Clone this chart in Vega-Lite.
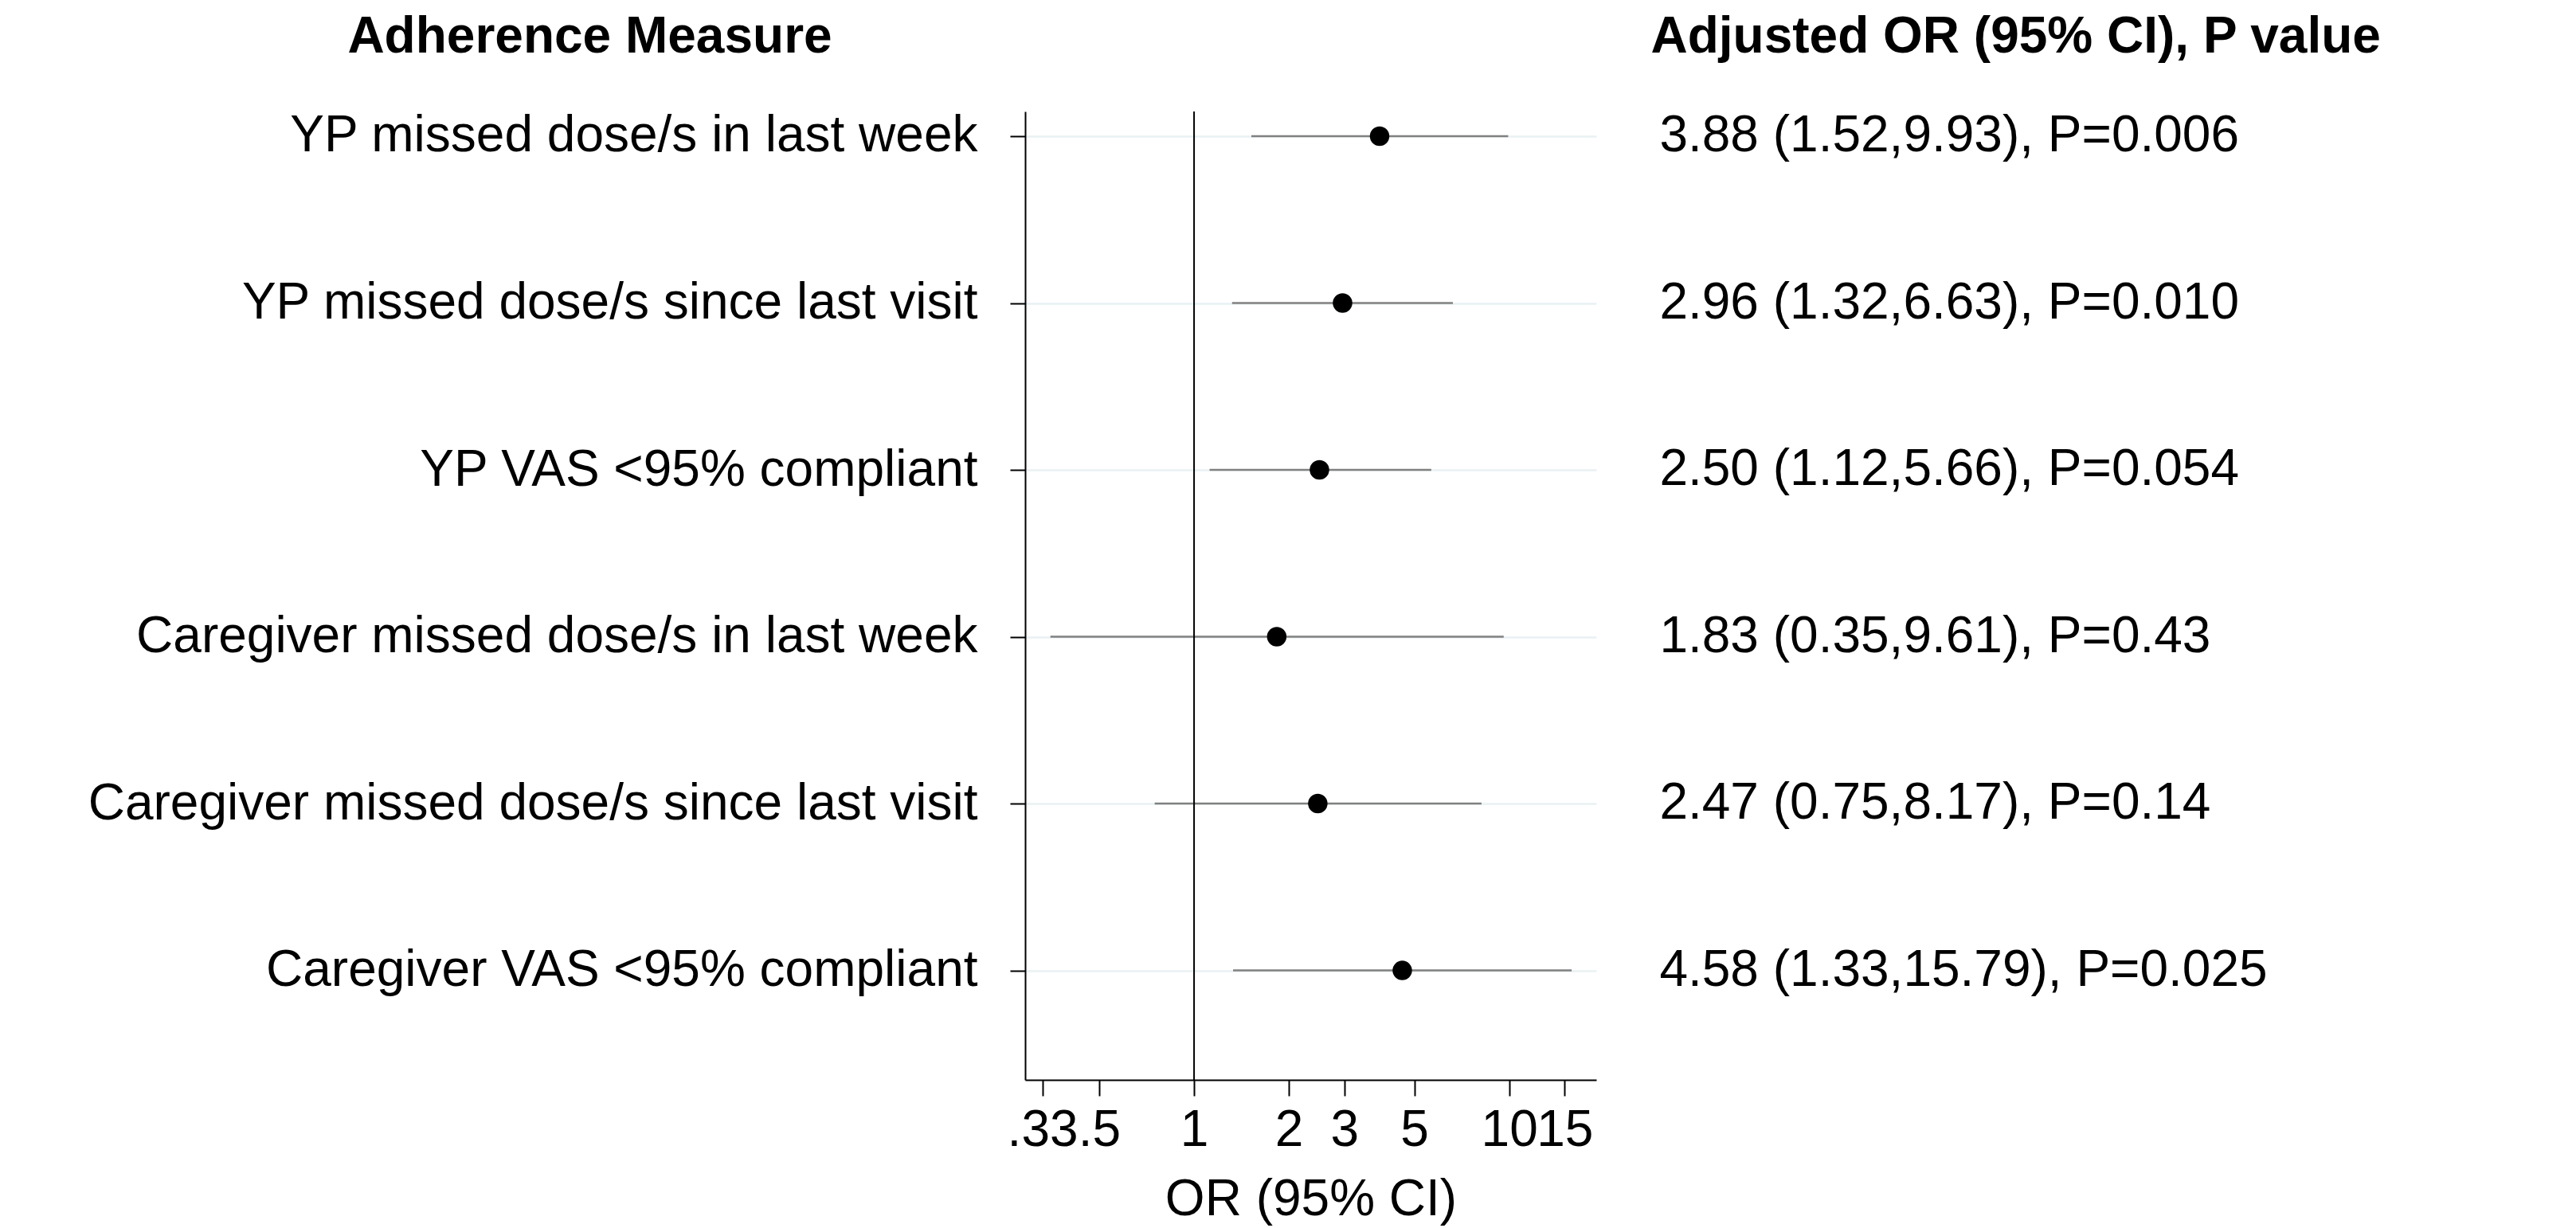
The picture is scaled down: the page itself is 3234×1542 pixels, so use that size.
{
  "$schema": "https://vega.github.io/schema/vega-lite/v6.json",
  "width": 717,
  "height": 1216,
  "autosize": {"type": "none"},
  "padding": {"left": 1287, "top": 140, "right": 1230, "bottom": 186},
  "background": "white",
  "config": {"view": {"stroke": null}, "font": "Liberation Sans"},
  "data": {
    "values": [
      {"measure": "YP missed dose/s in last week", "or": 3.88, "lower": 1.52, "upper": 9.93, "ci": "3.88 (1.52,9.93), P=0.006"},
      {"measure": "YP missed dose/s since last visit", "or": 2.96, "lower": 1.32, "upper": 6.63, "ci": "2.96 (1.32,6.63), P=0.010"},
      {"measure": "YP VAS <95% compliant", "or": 2.50, "lower": 1.12, "upper": 5.66, "ci": "2.50 (1.12,5.66), P=0.054"},
      {"measure": "Caregiver missed dose/s in last week", "or": 1.83, "lower": 0.35, "upper": 9.61, "ci": "1.83 (0.35,9.61), P=0.43"},
      {"measure": "Caregiver missed dose/s since last visit", "or": 2.47, "lower": 0.75, "upper": 8.17, "ci": "2.47 (0.75,8.17), P=0.14"},
      {"measure": "Caregiver VAS <95% compliant", "or": 4.58, "lower": 1.33, "upper": 15.79, "ci": "4.58 (1.33,15.79), P=0.025"}
    ]
  },
  "resolve": {"axis": {"x": "independent"}},
  "layer": [
    {
      "mark": {"type": "rule", "color": "#808080", "strokeWidth": 2.5},
      "encoding": {
        "x": {
          "field": "lower", "type": "quantitative",
          "scale": {"type": "log", "domain": [0.291, 18.9], "nice": false, "zero": false},
          "axis": {
            "orient": "bottom",
            "values": [0.33, 0.5, 1, 2, 3, 5, 10, 15],
            "labelExpr": "datum.value < 1 ? slice(format(datum.value, '~g'), 1) : format(datum.value, '~g')",
            "labelFontSize": 64, "labelColor": "black", "labelPadding": 11,
            "labelFlush": false, "labelOverlap": false,
            "tickSize": 20, "tickColor": "black", "tickWidth": 2,
            "domainColor": "black", "domainWidth": 2, "grid": false,
            "title": "OR (95% CI)", "titleFontSize": 64, "titleFontWeight": "normal",
            "titleColor": "black", "titleBaseline": "alphabetic", "titleY": 169
          }
        },
        "x2": {"field": "upper"},
        "y": {
          "field": "measure", "type": "nominal", "sort": null,
          "scale": {"type": "point", "padding": 0.402, "align": 0.184},
          "axis": {
            "title": "Adherence Measure", "titleAngle": 0, "titleX": -547, "titleY": -75,
            "titleAlign": "center", "titleBaseline": "alphabetic",
            "titleFontWeight": "bold", "titleFontSize": 64, "titleColor": "black",
            "labelFontSize": 64, "labelColor": "black", "labelPadding": 41, "labelLimit": 0,
            "tickSize": 19, "tickColor": "black", "tickWidth": 2,
            "domainColor": "black", "domainWidth": 2,
            "grid": true, "gridColor": "#e9f1f3", "gridWidth": 2.5, "zindex": 0
          }
        }
      }
    },
    {
      "data": {"values": [{"ref": 1}]},
      "mark": {"type": "rule", "color": "black", "strokeWidth": 2},
      "encoding": {
        "x": {"field": "ref", "type": "quantitative", "axis": null}
      }
    },
    {
      "mark": {"type": "circle", "size": 600, "color": "black", "opacity": 1},
      "encoding": {
        "x": {"field": "or", "type": "quantitative", "axis": null},
        "y": {"field": "measure", "type": "nominal", "sort": null}
      }
    },
    {
      "mark": {"type": "text", "align": "left", "baseline": "middle", "fontSize": 64, "color": "black"},
      "encoding": {
        "x": {"datum": 30, "type": "quantitative", "axis": null},
        "y": {"field": "measure", "type": "nominal", "sort": null},
        "text": {"field": "ci"}
      }
    },
    {
      "mark": {"type": "point", "opacity": 0},
      "encoding": {
        "x": {
          "field": "or", "type": "quantitative",
          "axis": {
            "orient": "top", "domain": false, "ticks": false, "labels": false, "grid": false,
            "title": "Adjusted OR (95% CI), P value", "titleX": 785, "titleY": -75,
            "titleAlign": "left", "titleBaseline": "alphabetic",
            "titleFontWeight": "bold", "titleFontSize": 64, "titleColor": "black"
          }
        },
        "y": {"field": "measure", "type": "nominal", "sort": null}
      }
    }
  ]
}
